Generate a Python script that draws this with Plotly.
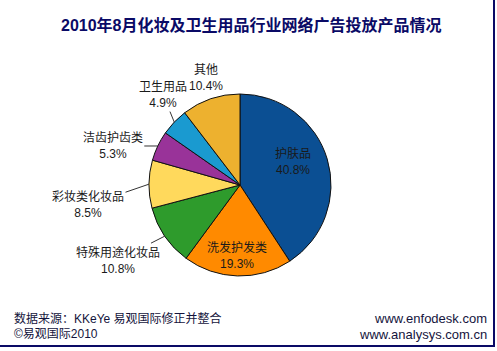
import math
import plotly.graph_objects as go

# ---- data ----
categories = ["护肤品", "洗发护发类", "特殊用途化妆品", "彩妆类化妆品", "洁齿护齿类", "卫生用品", "其他"]
values = [40.8, 19.3, 10.8, 8.5, 5.3, 4.9, 10.4]
title_text = "2010年8月化妆及卫生用品行业网络广告投放产品情况"
source_lines = ["数据来源：KKeYe 易观国际修正并整合", "©易观国际2010"]
site_lines = ["www.enfodesk.com", "www.analysys.com.cn"]

# ---- styles ----
colors = ["#0B4F93", "#FF8A00", "#2E9B2C", "#FFD95C", "#993399", "#1A9AD0", "#EDB12F"]
W, H = 497, 351
CX, CY, R = 240, 185, 91  # pie center / radius in px
# label placement: ('in', dx, dy) relative to center, or ('out', ax, ay, arrow) relative to rim point
label_style = {
    "护肤品": ("in", 53, -24),
    "洗发护发类": ("in", -3, 70),
    "特殊用途化妆品": ("out", -47, 24, True),
    "彩妆类化妆品": ("out", -61, 21, True),
    "洁齿护齿类": ("out", -45, 0, True),
    "卫生用品": ("out", -11, -27, True),
    "其他": ("out", -5, -21, False),
}
FONT = "Liberation Sans, Arial, Noto Sans CJK SC"
LBL = dict(size=12, color="#1a1a1a", family=FONT)

fig = go.Figure(go.Pie(
    labels=categories, values=values, sort=False, direction="clockwise", rotation=0,
    marker=dict(colors=colors, line=dict(color="#111111", width=1)),
    textinfo="none", hoverinfo="label+percent", showlegend=False,
    domain=dict(x=[(CX - R) / W, (CX + R) / W], y=[1 - (CY + R) / H, 1 - (CY - R) / H]),
))

def px2paper(x, y):
    return x / W, 1 - y / H

annotations = []
total = sum(values)
cum = 0.0
for cat, v in zip(categories, values):
    mid = (cum + v / 2) / total * 2 * math.pi
    cum += v
    text = f"{cat}<br>{v:.1f}%"
    st = label_style[cat]
    base = dict(xref="paper", yref="paper", text=text, xanchor="center", yanchor="middle", font=LBL)
    if st[0] == "in":
        x, y = px2paper(CX + st[1], CY + st[2])
        annotations.append(dict(base, x=x, y=y, showarrow=False))
    else:
        rx, ry = CX + R * math.sin(mid), CY - R * math.cos(mid)
        x, y = px2paper(rx, ry)
        if st[3]:
            annotations.append(dict(base, x=x, y=y, showarrow=True, ax=st[1], ay=st[2],
                                    arrowhead=0, arrowwidth=1, arrowcolor="#333333", standoff=0))
        else:
            annotations.append(dict(base, x=x, y=y, showarrow=False, xshift=st[1], yshift=-st[2]))

# title
tx, ty = px2paper(W / 2 + 3, 25)
annotations.append(dict(x=tx, y=ty, xref="paper", yref="paper", text=f"<b>{title_text}</b>",
                        xanchor="center", yanchor="middle", showarrow=False,
                        font=dict(size=16, color="#0A0A66", family=FONT)))
# footer
for i, s in enumerate(source_lines):
    x, y = px2paper(12, 318 + i * 16)
    annotations.append(dict(x=x, y=y, xref="paper", yref="paper", text=s, showarrow=False,
                            xanchor="left", yanchor="middle", font=dict(size=12, color="#14143c", family=FONT)))
for i, s in enumerate(site_lines):
    x, y = px2paper(489, 318 + i * 16)
    annotations.append(dict(x=x, y=y, xref="paper", yref="paper", text=s, showarrow=False,
                            xanchor="right", yanchor="middle", font=dict(size=13, color="#14143c", family=FONT)))

shapes = [
    dict(type="line", xref="paper", yref="paper", x0=494 / W, x1=494 / W, y0=1 - 347 / H, y1=1,
         line=dict(color="#0A0A66", width=2)),
    dict(type="line", xref="paper", yref="paper", x0=0, x1=495 / W, y0=1 - 346 / H, y1=1 - 346 / H,
         line=dict(color="#0A0A66", width=2)),
]

fig.update_layout(width=W, height=H, margin=dict(l=0, r=0, t=0, b=0),
                  paper_bgcolor="white", plot_bgcolor="white",
                  annotations=annotations, shapes=shapes)
fig.write_html("out.html")
